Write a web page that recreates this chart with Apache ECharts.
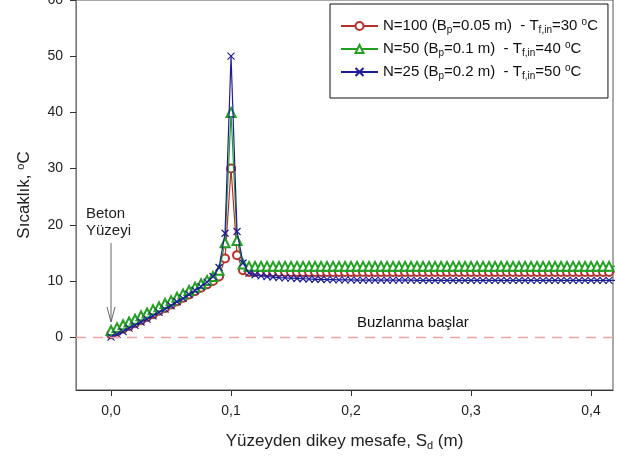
<!DOCTYPE html>
<html>
<head>
<meta charset="utf-8">
<script src="https://cdn.jsdelivr.net/npm/echarts@6/dist/echarts.min.js"></script>
<style>
html,body{margin:0;padding:0;background:#fff;}
#chart{width:617px;height:459px;}
</style>
</head>
<body>
<div id="chart"></div>
<script>
// Distance from surface, Sd (m)
const xs = [
0.000,0.005,0.010,0.015,0.020,0.025,0.030,0.035,0.040,0.045,
0.050,0.055,0.060,0.065,0.070,0.075,0.080,0.085,0.090,0.095,
0.100,0.105,0.110,0.115,0.120,0.125,0.130,0.135,0.140,0.145,
0.150,0.155,0.160,0.165,0.170,0.175,0.180,0.185,0.190,0.195,
0.200,0.205,0.210,0.215,0.220,0.225,0.230,0.235,0.240,0.245,
0.250,0.255,0.260,0.265,0.270,0.275,0.280,0.285,0.290,0.295,
0.300,0.305,0.310,0.315,0.320,0.325,0.330,0.335,0.340,0.345,
0.350,0.355,0.360,0.365,0.370,0.375,0.380,0.385,0.390,0.395,
0.400,0.405,0.410,0.415,0.420];

// N=100 (Bp=0.05 m), Tf,in=30 °C
const tempN100 = [
0.5,1.0,1.5,2.0,2.5,3.0,3.6,4.1,4.7,5.2,
5.8,6.4,7.0,7.6,8.2,8.8,9.4,10.0,10.8,14.0,
30.0,14.6,11.9,11.6,11.6,11.6,11.6,11.6,11.6,11.6,
11.6,11.6,11.6,11.6,11.6,11.6,11.6,11.6,11.6,11.6,
11.6,11.6,11.6,11.6,11.6,11.6,11.6,11.6,11.6,11.6,
11.6,11.6,11.6,11.6,11.6,11.6,11.6,11.6,11.6,11.6,
11.6,11.6,11.6,11.6,11.6,11.6,11.6,11.6,11.6,11.6,
11.6,11.6,11.6,11.6,11.6,11.6,11.6,11.6,11.6,11.6,
11.6,11.6,11.6,11.6,11.6];

// N=50 (Bp=0.1 m), Tf,in=40 °C
const tempN50 = [
1.2,1.7,2.2,2.7,3.2,3.8,4.3,4.9,5.4,6.0,
6.5,7.1,7.7,8.3,8.9,9.5,10.1,10.8,11.9,16.8,
40.0,17.2,13.0,12.6,12.6,12.6,12.6,12.6,12.6,12.6,
12.6,12.6,12.6,12.6,12.6,12.6,12.6,12.6,12.6,12.6,
12.6,12.6,12.6,12.6,12.6,12.6,12.6,12.6,12.6,12.6,
12.6,12.6,12.6,12.6,12.6,12.6,12.6,12.6,12.6,12.6,
12.6,12.6,12.6,12.6,12.6,12.6,12.6,12.6,12.6,12.6,
12.6,12.6,12.6,12.6,12.6,12.6,12.6,12.6,12.6,12.6,
12.6,12.6,12.6,12.6,12.6];

// N=25 (Bp=0.2 m), Tf,in=50 °C
const tempN25 = [
0.0,0.5,1.0,1.6,2.1,2.7,3.2,3.8,4.4,5.0,
5.6,6.3,6.9,7.6,8.3,9.0,9.8,10.8,12.4,18.5,
50.0,18.8,13.2,11.4,11.1,10.9,10.8,10.7,10.6,10.55,
10.5,10.45,10.4,10.35,10.3,10.3,10.25,10.25,10.2,10.2,
10.2,10.15,10.15,10.15,10.15,10.15,10.15,10.15,10.15,10.15,
10.15,10.1,10.1,10.1,10.1,10.1,10.1,10.1,10.1,10.1,
10.1,10.1,10.1,10.1,10.1,10.1,10.1,10.1,10.1,10.1,
10.1,10.1,10.1,10.1,10.1,10.1,10.1,10.1,10.1,10.1,
10.1,10.1,10.1,10.1,10.1];

const xTicks = [0, 0.1, 0.2, 0.3, 0.4];
const yTicks = [0, 10, 20, 30, 40, 50, 60];

const seriesNames = ['N100', 'N50', 'N25'];
const legendLabels = {
  N100: 'N=100 (B{sub|p}=0.05 m)  - T{sub|f,in}=30 {sup|o}C',
  N50:  'N=50 (B{sub|p}=0.1 m)  - T{sub|f,in}=40 {sup|o}C',
  N25:  'N=25 (B{sub|p}=0.2 m)  - T{sub|f,in}=50 {sup|o}C'
};

const FONT = '"Liberation Sans", Arial, sans-serif';
const RED = '#b8302c', GREEN = '#23a023', BLUE = '#1d1d98';

function pairs(ys){ return xs.map((x,i)=>[x, ys[i]]); }

const chart = echarts.init(document.getElementById('chart'), null, {renderer:'canvas'});
chart.setOption({
  animation: false,
  backgroundColor: '#fff',
  textStyle: {fontFamily: FONT},
  grid: {left: 76, right: 4, top: 0, bottom: 69, show: true, borderColor: '#555', borderWidth: 1,
         containLabel: false, outerBoundsMode: 'none'},
  xAxis: {
    type: 'value', min: -0.0292, max: 0.4183,
    name: 'Yüzeyden dikey mesafe, S{sub|d} (m)',
    nameLocation: 'middle', nameGap: 42,
    nameTextStyle: {fontSize: 17, color: '#222', fontFamily: FONT,
      rich: {sub: {fontSize: 11, verticalAlign: 'bottom', padding: [8,0,0,0], color: '#222', fontFamily: FONT}}},
    axisLine: {show: true, onZero: false, lineStyle: {color: '#333', width: 1}},
    axisTick: {show: true, length: 6, inside: false, customValues: xTicks, lineStyle: {color: '#333'}},
    axisLabel: {fontSize: 14, color: '#222', margin: 14, customValues: xTicks,
      formatter: v => v.toFixed(1).replace('.', ',')},
    splitLine: {show: false}
  },
  yAxis: {
    type: 'value', min: -9.4, max: 60,
    name: 'Sıcaklık, {sup|o}C',
    nameLocation: 'middle', nameGap: 42, nameRotate: 90,
    nameTextStyle: {fontSize: 17, color: '#222', fontFamily: FONT,
      rich: {sup: {fontSize: 11, verticalAlign: 'top', padding: [0,0,8,0], color: '#222', fontFamily: FONT}}},
    axisLine: {show: true, onZero: false, lineStyle: {color: '#777', width: 1}},
    axisTick: {show: true, length: 6, customValues: yTicks, lineStyle: {color: '#333'}},
    axisLabel: {fontSize: 14, color: '#222', margin: 13, customValues: yTicks},
    splitLine: {show: false}
  },
  legend: {
    left: 330, top: 4, orient: 'vertical',
    data: seriesNames,
    backgroundColor: '#fff', borderColor: '#111', borderWidth: 1,
    padding: [13, 10, 17, 10], itemGap: 5,
    itemWidth: 37, itemHeight: 10,
    formatter: name => legendLabels[name],
    textStyle: {fontSize: 15, color: '#111', fontFamily: FONT, lineHeight: 18,
      rich: {
        sub: {fontSize: 10, verticalAlign: 'bottom', padding: [9,0,0,0], color: '#111', fontFamily: FONT},
        sup: {fontSize: 10, verticalAlign: 'top', padding: [0,0,8,0], color: '#111', fontFamily: FONT}
      }}
  },
  series: [
    {
      name: 'N100', type: 'line', data: pairs(tempN100),
      symbol: 'emptyCircle', symbolSize: 8,
      lineStyle: {color: RED, width: 1.2},
      itemStyle: {color: RED, borderColor: RED, borderWidth: 1},
      markLine: {
        silent: true, symbol: ['none','none'], label: {show: false},
        lineStyle: {color: '#f2a4a4', type: [10, 7], width: 1.3},
        data: [{yAxis: 0}]
      },
      z: 2
    },
    {
      name: 'N50', type: 'line', data: pairs(tempN50),
      symbol: 'emptyTriangle', symbolSize: 9,
      lineStyle: {color: GREEN, width: 1.2},
      itemStyle: {color: GREEN, borderColor: GREEN, borderWidth: 1},
      z: 3
    },
    {
      name: 'N25', type: 'line', data: pairs(tempN25),
      symbol: 'path://M0,0L10,10M0,10L10,0', symbolSize: 7,
      lineStyle: {color: BLUE, width: 1.2},
      itemStyle: {color: BLUE, borderColor: BLUE, borderWidth: 1.2},
      z: 4
    }
  ],
  graphic: [
    {type: 'text', left: 86, top: 205, style: {text: 'Beton\nYüzeyi', font: '15px ' + FONT, fill: '#222', lineHeight: 17}},
    {type: 'line', shape: {x1: 111, y1: 243, x2: 111, y2: 322}, style: {stroke: '#666', lineWidth: 1}},
    {type: 'polyline', shape: {points: [[107,307],[111,322],[115,307]]}, style: {stroke: '#666', lineWidth: 1, fill: null}},
    {type: 'text', left: 357, top: 315, style: {text: 'Buzlanma başlar', font: '15px ' + FONT, fill: '#111'}}
  ]
});
</script>
</body>
</html>
